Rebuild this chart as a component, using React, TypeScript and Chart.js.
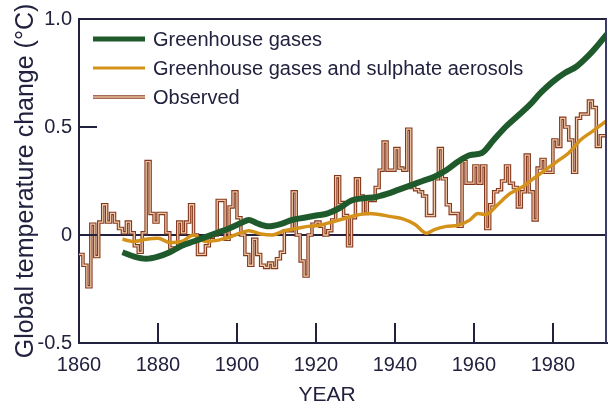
import React, { useEffect, useRef } from "react";
import { Chart, registerables } from "chart.js";

Chart.register(...registerables);

// ---------- data ----------
const seriesLabels = [
  "Greenhouse gases",
  "Greenhouse gases and sulphate aerosols",
  "Observed",
];

const observedStartYear = 1860;
// annual observed anomalies 1860..1992 (°C)
const observedValues = [
  -0.09, -0.14, -0.24, 0.05, -0.10, 0.06, 0.14, 0.06, 0.10, 0.06, // 1860-69
  0.03, 0.01, 0.06, 0.01, -0.05, -0.08, 0.01, 0.34, 0.10, 0.06, // 1870-79
  0.10, 0.10, 0.01, -0.06, -0.06, 0.06, 0.01, 0.06, 0.14, 0.00, // 1880-89
  -0.09, -0.09, -0.05, -0.01, 0.00, 0.16, 0.16, -0.02, 0.13, 0.20, // 1890-99
  0.08, 0.00, -0.09, -0.14, -0.02, -0.09, -0.14, -0.15, -0.13, -0.15, // 1900-09
  -0.11, -0.08, 0.02, 0.02, 0.20, 0.00, -0.12, -0.19, 0.00, 0.05, // 1910-19
  0.06, 0.04, 0.00, 0.02, 0.07, 0.27, 0.15, 0.09, -0.05, 0.08, // 1920-29
  0.26, 0.18, 0.10, 0.16, 0.16, 0.22, 0.30, 0.43, 0.30, 0.30, // 1930-39
  0.40, 0.31, 0.30, 0.49, 0.22, 0.21, 0.20, 0.18, 0.09, 0.09, // 1940-49
  0.26, 0.40, 0.26, 0.14, 0.10, 0.10, 0.04, 0.34, 0.24, 0.24, // 1950-59
  0.32, 0.24, 0.32, 0.03, 0.14, 0.20, 0.21, 0.25, 0.32, 0.24, // 1960-69
  0.22, 0.13, 0.20, 0.37, 0.20, 0.07, 0.31, 0.35, 0.29, 0.29, // 1970-79
  0.44, 0.41, 0.54, 0.50, 0.44, 0.29, 0.54, 0.56, 0.56, 0.62, // 1980-89
  0.59, 0.41, 0.46, // 1990-92
];

const greenhouseYears = [
  1871, 1874, 1877, 1880, 1883, 1886, 1889, 1892, 1895, 1898, 1901, 1903,
  1905, 1908, 1911, 1914, 1917, 1920, 1923, 1926, 1929, 1932, 1935, 1938,
  1941, 1944, 1947, 1950, 1953, 1956, 1959, 1962, 1965, 1968, 1971, 1974,
  1977, 1980, 1983, 1986, 1989, 1991, 1993.7,
];
const greenhouseValues = [
  -0.08, -0.10, -0.11, -0.10, -0.08, -0.05, -0.03, -0.01, 0.01, 0.03, 0.055, 0.07,
  0.055, 0.04, 0.05, 0.07, 0.08, 0.09, 0.10, 0.125, 0.16, 0.17, 0.175, 0.19,
  0.21, 0.23, 0.25, 0.27, 0.30, 0.34, 0.37, 0.38, 0.44, 0.50, 0.55, 0.60,
  0.66, 0.71, 0.75, 0.78, 0.83, 0.87, 0.93,
];

const sulphateYears = [
  1871, 1874, 1877, 1880, 1883, 1886, 1889, 1892, 1895, 1898, 1901, 1903,
  1906, 1909, 1912, 1915, 1918, 1921, 1924, 1927, 1930, 1933, 1936, 1939,
  1942, 1945, 1948, 1950, 1953, 1956, 1959, 1961, 1963, 1966, 1969, 1972,
  1975, 1978, 1981, 1984, 1987, 1990, 1993.7,
];
const sulphateValues = [
  -0.02, -0.03, -0.02, -0.015, -0.035, -0.03, 0.0, -0.03, -0.025, -0.01, 0.01, 0.02,
  0.005, 0.0, 0.02, 0.03, 0.04, 0.045, 0.06, 0.075, 0.09, 0.10, 0.095, 0.085,
  0.075, 0.05, 0.008, 0.025, 0.04, 0.045, 0.07, 0.10, 0.095, 0.14, 0.19, 0.22,
  0.26, 0.30, 0.34, 0.38, 0.44, 0.48, 0.53,
];

const xTickYears = [1860, 1880, 1900, 1920, 1940, 1960, 1980];
const yTickValues = [-0.5, 0, 0.5, 1.0];
const xMin = 1860;
const xMax = 1993.7;
const yMin = -0.5;
const yMax = 1.0;
const xTitle = "YEAR";
const yTitle = "Global temperature change (°C)";

// ---------- styles ----------
const NAVY = "#22223f";
const GREEN = "#1e5a2b";
const ORANGE = "#d4921a";
const BROWN = "#84391f";
const BROWN_LIGHT = "#efc9a8";
const FONT = '"Liberation Sans", Arial, Helvetica, sans-serif';

const decorPlugin = {
  id: "decor",
  afterDraw(chart: any) {
    const { ctx, chartArea: a, scales } = chart;
    const xs = scales.x;
    const ys = scales.y;
    ctx.save();
    // right border
    ctx.strokeStyle = "#3c3c6a";
    ctx.lineWidth = 2;
    ctx.beginPath();
    ctx.moveTo(a.right - 1, a.top);
    ctx.lineTo(a.right - 1, a.bottom);
    ctx.stroke();
    // inward ticks
    ctx.strokeStyle = NAVY;
    ctx.lineWidth = 2;
    xTickYears.forEach((v) => {
      if (v === xMin) return;
      const px = Math.round(xs.getPixelForValue(v));
      ctx.beginPath();
      ctx.moveTo(px, a.bottom);
      ctx.lineTo(px, a.bottom - 20);
      ctx.stroke();
    });
    yTickValues.forEach((v) => {
      const py = Math.round(ys.getPixelForValue(v));
      ctx.beginPath();
      ctx.moveTo(a.left, py);
      ctx.lineTo(a.left + 18, py);
      ctx.stroke();
    });

    // legend
    const rows = [39, 68, 97];
    const x0 = 93;
    const x1 = 145;
    const drawSample = (i: number, y: number) => {
      ctx.lineCap = "butt";
      if (i === 0) {
        ctx.strokeStyle = GREEN;
        ctx.lineWidth = 5;
        ctx.beginPath(); ctx.moveTo(x0, y); ctx.lineTo(x1, y); ctx.stroke();
      } else if (i === 1) {
        ctx.strokeStyle = ORANGE;
        ctx.lineWidth = 3;
        ctx.beginPath(); ctx.moveTo(x0, y); ctx.lineTo(x1, y); ctx.stroke();
      } else {
        ctx.strokeStyle = BROWN;
        ctx.lineWidth = 3.5;
        ctx.beginPath(); ctx.moveTo(x0, y); ctx.lineTo(x1, y); ctx.stroke();
        ctx.strokeStyle = BROWN_LIGHT;
        ctx.lineWidth = 1.3;
        ctx.beginPath(); ctx.moveTo(x0, y); ctx.lineTo(x1, y); ctx.stroke();
      }
    };
    ctx.font = `20px ${FONT}`;
    ctx.textAlign = "left";
    ctx.textBaseline = "middle";
    seriesLabels.forEach((label, i) => {
      drawSample(i, rows[i]);
      ctx.fillStyle = NAVY;
      ctx.fillText(label, 153, rows[i] + 1);
    });

    // axis titles
    ctx.fillStyle = NAVY;
    ctx.font = `21px ${FONT}`;
    ctx.textAlign = "center";
    ctx.textBaseline = "middle";
    ctx.fillText(xTitle, 327, 395);

    ctx.save();
    ctx.translate(33, 181);
    ctx.rotate(-Math.PI / 2);
    ctx.font = `25px ${FONT}`;
    ctx.textAlign = "center";
    ctx.textBaseline = "alphabetic";
    ctx.fillText(yTitle, 0, 0);
    ctx.restore();

    ctx.restore();
  },
};

export default function App() {
  const canvasRef = useRef<HTMLCanvasElement | null>(null);

  useEffect(() => {
    const canvas = canvasRef.current;
    if (!canvas) return;

    const observedPoints = observedValues.map((v, i) => ({ x: observedStartYear + i, y: v }));
    observedPoints.push({ x: xMax, y: observedValues[observedValues.length - 1] });
    const ghgPoints = greenhouseYears.map((yr, i) => ({ x: yr, y: greenhouseValues[i] }));
    const sulPoints = sulphateYears.map((yr, i) => ({ x: yr, y: sulphateValues[i] }));

    const chart = new Chart(canvas, {
      type: "line",
      data: {
        datasets: [
          {
            label: seriesLabels[0],
            data: ghgPoints,
            borderColor: GREEN,
            borderWidth: 6,
            pointRadius: 0,
            cubicInterpolationMode: "monotone",
            order: 0,
          },
          {
            label: seriesLabels[1],
            data: sulPoints,
            borderColor: ORANGE,
            borderWidth: 3.5,
            pointRadius: 0,
            cubicInterpolationMode: "monotone",
            order: 1,
          },
          {
            label: seriesLabels[2] + " inner",
            data: observedPoints,
            borderColor: BROWN_LIGHT,
            borderWidth: 1.3,
            pointRadius: 0,
            stepped: true,
            order: 2,
          },
          {
            label: seriesLabels[2],
            data: observedPoints,
            borderColor: BROWN,
            borderWidth: 3.5,
            pointRadius: 0,
            stepped: true,
            order: 3,
          },
        ],
      },
      options: {
        responsive: false,
        animation: false,
        events: [],
        layout: { padding: { top: 15, right: 1, left: 0, bottom: 0 } },
        plugins: {
          legend: { display: false },
          tooltip: { enabled: false },
        },
        scales: {
          x: {
            type: "linear",
            min: xMin,
            max: xMax,
            afterFit: (s: any) => { s.height = 67; },
            afterBuildTicks: (s: any) => { s.ticks = xTickYears.map((v) => ({ value: v })); },
            grid: { display: false, drawTicks: false },
            border: { display: true, color: NAVY, width: 2 },
            ticks: {
              font: { family: FONT, size: 20 },
              color: NAVY,
              padding: 10,
              maxRotation: 0,
              autoSkip: false,
              callback: (v: any) => String(v),
            },
          },
          y: {
            type: "linear",
            min: yMin,
            max: yMax,
            afterFit: (s: any) => { s.width = 79; },
            afterBuildTicks: (s: any) => { s.ticks = yTickValues.map((v) => ({ value: v })); },
            grid: {
              drawTicks: false,
              lineWidth: 2,
              color: (c: any) =>
                c.tick && (c.tick.value === 0 || c.tick.value === yMax) ? NAVY : "rgba(0,0,0,0)",
            },
            border: { display: true, color: NAVY, width: 2 },
            ticks: {
              font: { family: FONT, size: 20 },
              color: NAVY,
              padding: 7,
              callback: (v: any) => (Number(v) === 0 ? "0" : Number(v).toFixed(1)),
            },
          },
        },
      },
      plugins: [decorPlugin],
    } as any);

    return () => chart.destroy();
  }, []);

  return (
    <div style={{ position: "fixed", left: 0, top: 0, width: 608, height: 410, background: "#ffffff" }}>
      <canvas ref={canvasRef} width={608} height={410} style={{ display: "block", width: 608, height: 410 }} />
    </div>
  );
}
